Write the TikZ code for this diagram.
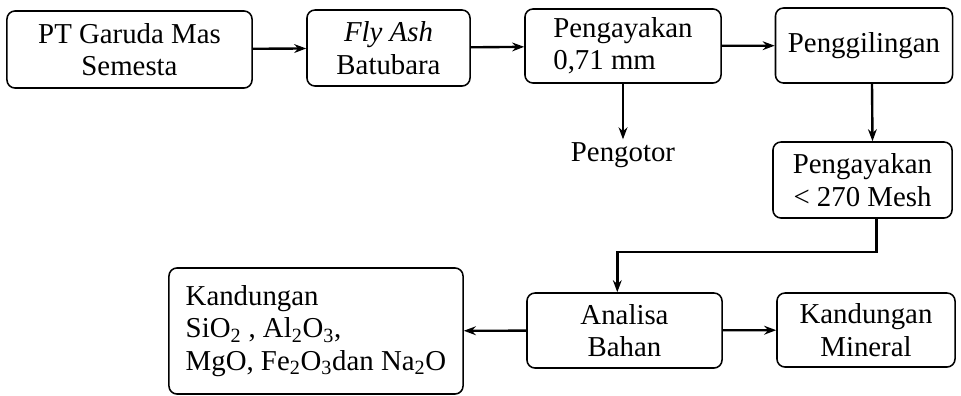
\documentclass[tikz,border=0pt]{standalone}
\usepackage{fontspec}
\setmainfont{Liberation Serif}
\usepackage{tikz}
\usetikzlibrary{arrows.meta,positioning,calc}

\begin{document}
\begin{tikzpicture}[x=0.025cm, y=-0.025cm,
    blok/.style={draw, line width=1.1pt, rounded corners=0.2cm, inner sep=2pt,
        align=center, font=\fontsize{20.5}{23}\selectfont},
    teks/.style={inner sep=2pt, font=\fontsize{20.5}{23}\selectfont},
    panah/.style={line width=1.7pt, -{Stealth[length=0.3cm, width=0.22cm]}}]
    \useasboundingbox (0,0) rectangle (961,395);

    % Baris atas
    \node[blok, minimum width=6.125cm, minimum height=1.925cm] (pt) at (129.5,49.5) {PT Garuda Mas\\Semesta};
    \node[blok, minimum width=4.075cm, minimum height=1.9cm] (fly) at (388.5,48) {\textit{Fly Ash}\\Batubara};
    \node[blok, align=left, minimum width=4.9cm, minimum height=1.85cm] (ayak1) at (623,46) {Pengayakan\\0,71 mm};
    \node[blok, minimum width=4.425cm, minimum height=1.875cm] (giling) at (864,45.5) {Penggilingan};
    \node[teks] (kotor) at (623,155) {Pengotor};

    % Sisi kanan
    \node[blok, minimum width=4.475cm, minimum height=1.9cm] (ayak2) at (862.5,180) {Pengayakan\\< 270 Mesh};

    % Baris bawah
    \node[blok, minimum width=4.875cm, minimum height=1.875cm] (analisa) at (624.5,330.5) {Analisa\\Bahan};
    \node[blok, minimum width=4.45cm, minimum height=1.85cm] (mineral) at (866,330) {Kandungan\\Mineral};
    \node[blok, align=left, minimum width=7.35cm, minimum height=3.15cm] (kandung) at (316,331)
        {Kandungan\\SiO\textsubscript{2} , Al\textsubscript{2}O\textsubscript{3},\\MgO, Fe\textsubscript{2}O\textsubscript{3}dan Na\textsubscript{2}O};

    % Alur proses
    \draw[panah] (pt) -- (fly);
    \draw[panah] (fly) -- (ayak1);
    \draw[panah] (ayak1) -- (giling);
    \draw[panah] (ayak1.south) -- (kotor.north);
    \draw[panah] ([xshift=0.2cm]giling.south) -- ([xshift=0.25cm]ayak2.north);
    \draw[panah] ([xshift=0.35cm]ayak2.south) -- ++(0,33) -| ([xshift=-0.18cm]analisa.north);
    \draw[panah] (analisa) -- (mineral);
    \draw[panah] (analisa) -- (kandung);
\end{tikzpicture}
\end{document}
